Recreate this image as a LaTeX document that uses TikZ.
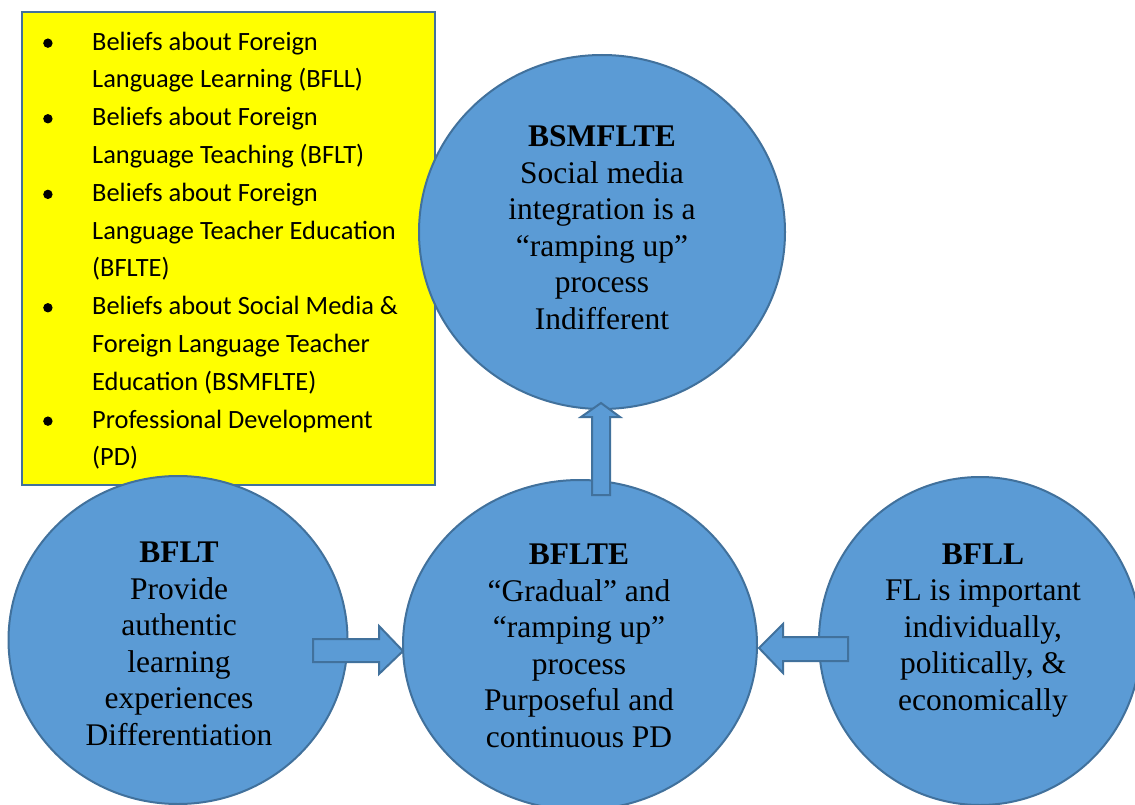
\documentclass[tikz,border=0pt]{standalone}
\usepackage{fontspec}
\setmainfont{Liberation Serif}
\newfontfamily\calibfont{Carlito}
\usetikzlibrary{shapes.geometric}
\definecolor{blobfill}{HTML}{5B9BD5}
\definecolor{blobline}{HTML}{41719C}
\definecolor{legendyellow}{HTML}{FFFF00}
\newcommand\legitem{\par\noindent\hangindent=52pt\hangafter=1\strut\makebox[52pt][l]{\hspace{3pt}\tikz[baseline=0pt]\fill (4.7pt,7pt) circle[radius=4.7pt];}}
\tikzset{
  blob/.style={ellipse, draw=blobline, fill=blobfill, line width=2pt, inner sep=0pt},
  ctext/.style={font=\fontsize{31.5}{36.5}\selectfont, align=center, inner sep=0pt, anchor=base},
  blockarrow/.style={draw=blobline, fill=blobfill, line width=2pt, line join=miter},
  legendbox/.style={draw=blobline, fill=legendyellow, line width=2pt, inner sep=0pt, anchor=north west},
  legendtext/.style={font=\calibfont\fontsize{26.4}{37.8}\selectfont, inner sep=0pt, anchor=north west}
}
\begin{document}
\begin{tikzpicture}[x=1pt,y=-1pt]
\useasboundingbox (0,0) rectangle (1135,805);
\clip (0,0) rectangle (1135,805);
\fill[white] (0,0) rectangle (1135,805);
% legend
\node[legendbox, minimum width=413pt, minimum height=473pt] (legendframe) at (21,11) {};
\node[legendtext] (legend) at (40,23.5) {\begin{minipage}[t]{380pt}\parskip=0pt\parindent=0pt
\legitem Beliefs about Foreign\\Language Learning (BFLL)
\legitem Beliefs about Foreign\\Language Teaching (BFLT)
\legitem Beliefs about Foreign\\Language Teacher Education\\(BFLTE)
\legitem Beliefs about Social Media \&\\Foreign Language Teacher\\Education (BSMFLTE)
\legitem Professional Development\\(PD)\strut\par
\end{minipage}};
% circles
\node[blob, minimum width=366pt, minimum height=354pt] (bsm) at (602,232) {};
\node[blob, minimum width=339pt, minimum height=328pt] (bflt) at (178,640) {};
\node[blob, minimum width=354pt, minimum height=330pt] (bflte) at (580,645) {};
\node[blob, minimum width=322pt, minimum height=328pt] (bfll) at (980,641) {};
% texts (anchored at the baseline of their last line)
\node[ctext] (bsmtext) at (602,329) {\textbf{BSMFLTE}\\Social media\\integration is a\\“ramping up”\\process\\Indifferent};
\node[ctext] (bflttext) at (179,745) {\textbf{BFLT}\\Provide\\authentic\\learning\\experiences\\Differentiation};
\node[ctext] (bfltetext) at (579,747) {\textbf{BFLTE}\\“Gradual” and\\“ramping up”\\process\\Purposeful and\\continuous PD};
\node[ctext] (bflltext) at (983,710) {\textbf{BFLL}\\FL is important\\individually,\\politically, \&\\economically};
% block arrows
\filldraw[blockarrow] (592,495) -- (592,417) -- (581,417) -- (601,403) -- (620,417) -- (610,417) -- (610,495) -- cycle;
\filldraw[blockarrow] (313,639) -- (379,639) -- (379,626) -- (403,651) -- (379,674) -- (379,662) -- (313,662) -- cycle;
\filldraw[blockarrow] (848,637) -- (783,637) -- (783,624) -- (759,648) -- (783,673) -- (783,661) -- (848,661) -- cycle;
\end{tikzpicture}
\end{document}
